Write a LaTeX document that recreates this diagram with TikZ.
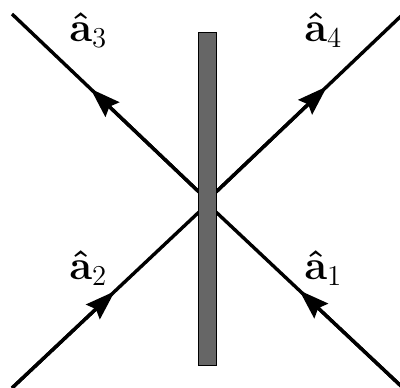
\documentclass[tikz,border=0pt]{standalone}
\usetikzlibrary{arrows.meta,calc}
\tikzset{
  ray/.style={line width=1.7pt, line cap=butt},
  rayarrow/.style={ray, -{Stealth[length=15pt,width=10pt,inset=2pt]}},
  splitter/.style={draw=black, line width=0.6pt, fill=black!60, inner sep=0pt, minimum width=9.1pt, minimum height=166.7pt},
  lbl/.style={anchor=base west, inner sep=0pt, font=\fontsize{22}{26}\selectfont}
}
\newcommand{\ahat}[1]{{\boldmath$\hat{\mathbf{a}}$}$_{#1}$}
\begin{document}
\begin{tikzpicture}[x=0.5pt,y=-0.5pt]
\useasboundingbox (0,0) rectangle (400,387);
% ray end points
\coordinate (out3) at (12,14);
\coordinate (in3) at (199,192);
\coordinate (out2) at (12,388);
\coordinate (in2) at (199,212);
\coordinate (out4) at (401,16);
\coordinate (in4) at (216,192);
\coordinate (out1) at (401,386);
\coordinate (in1) at (216,212);
% rays
\draw[ray] (out3) -- (in3);
\draw[ray] (out2) -- (in2);
\draw[ray] (out4) -- (in4);
\draw[ray] (out1) -- (in1);
% arrowheads
\draw[rayarrow] (in3) -- ($(in3)!0.58!(out3)$);
\draw[rayarrow] (in4) -- ($(in4)!0.6!(out4)$);
\draw[rayarrow] (out2) -- ($(out2)!0.55!(in2)$);
\draw[rayarrow] (out1) -- ($(out1)!0.55!(in1)$);
% beam splitter
\node[splitter] (bs) at (207.4,199) {};
% labels
\node[lbl] (l3) at (69,41) {\ahat{3}};
\node[lbl] (l4) at (304,41) {\ahat{4}};
\node[lbl] (l2) at (69,279) {\ahat{2}};
\node[lbl] (l1) at (304,279) {\ahat{1}};
\end{tikzpicture}
\end{document}
